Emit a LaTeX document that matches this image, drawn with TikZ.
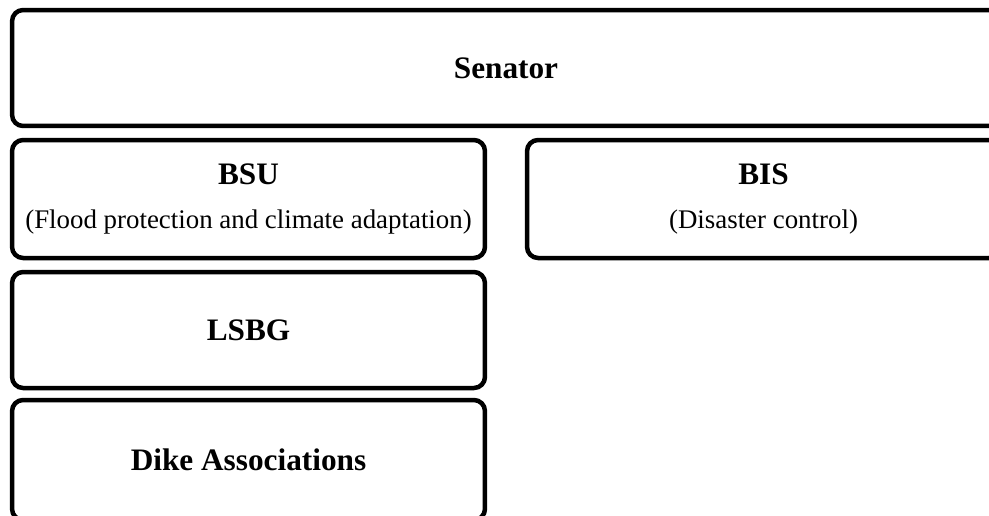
\documentclass[tikz,border=0pt]{standalone}
\usepackage{fontspec}
\setmainfont{Liberation Serif}
\begin{document}
\begin{tikzpicture}[x=0.02cm, y=-0.02cm,
    unit/.style={draw, line width=0.09cm, rounded corners=0.22cm, inner sep=0pt, align=center, font=\fontsize{17.8}{25}\selectfont\bfseries}]
    \useasboundingbox (0,0) rectangle (989,515);
    \clip (0,0) rectangle (989,515);
    \node[unit, minimum width=19.76cm, minimum height=2.32cm] (senator) at (506,68) {Senator};
    \node[unit, minimum width=9.46cm, minimum height=2.36cm] (bsu) at (248.5,199) {BSU\\{\fontsize{15.3}{25}\selectfont\mdseries (Flood protection and climate adaptation)}};
    \node[unit, minimum width=9.46cm, minimum height=2.36cm] (bis) at (763.5,199) {BIS\\{\fontsize{15.3}{25}\selectfont\mdseries (Disaster control)}};
    \node[unit, minimum width=9.46cm, minimum height=2.32cm] (lsbg) at (248.5,330) {LSBG};
    \node[unit, minimum width=9.46cm, minimum height=2.4cm] (dike) at (248.5,460) {Dike Associations};
\end{tikzpicture}
\end{document}
